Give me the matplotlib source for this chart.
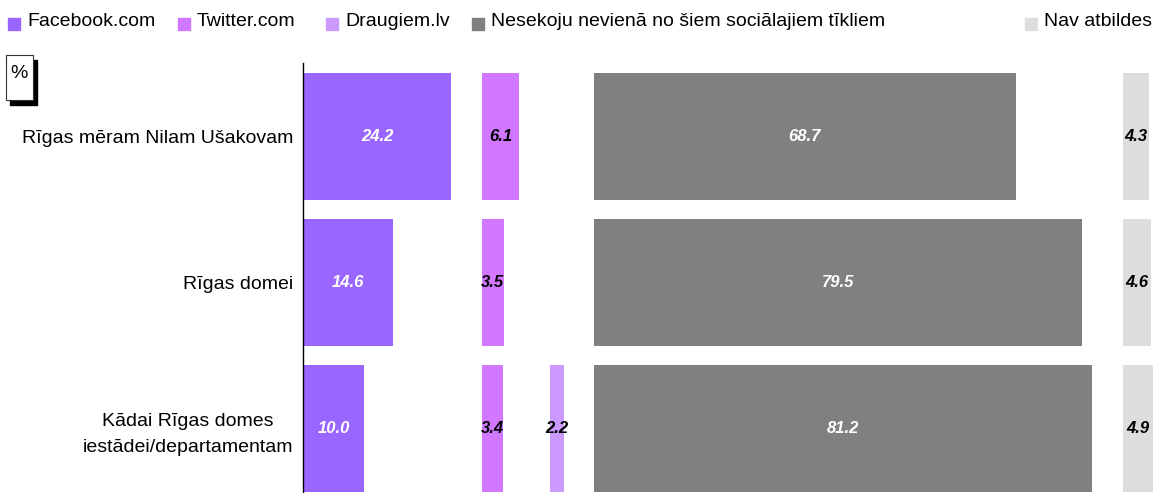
import numpy as np
import matplotlib.pyplot as plt
from matplotlib.patches import Rectangle

plt.rcParams['font.family'] = ['Liberation Sans', 'DejaVu Sans']

categories = ['Rīgas mēram Nilam Ušakovam', 'Rīgas domei', 'Kādai Rīgas domes\niestādei/departamentam']
series = ['Facebook.com', 'Twitter.com', 'Draugiem.lv',
          'Nesekoju nevienā no šiem sociālajiem tīkliem', 'Nav atbildes']
facebook = [24.2, 14.6, 10.0]
twitter = [6.1, 3.5, 3.4]
draugiem = [np.nan, np.nan, 2.2]
nesekoju = [68.7, 79.5, 81.2]
nav = [4.3, 4.6, 4.9]
values = [facebook, twitter, draugiem, nesekoju, nav]

colors = ['#9966FF', '#D277FF', '#CC99FF', '#808080', '#DDDDDD']
label_colors = ['white', 'black', 'black', 'white', 'black']
gap = 5.0

fig = plt.figure(figsize=(11.59, 4.93), dpi=100)
ax = fig.add_axes([303 / 1159, 0.0, 1 - 303 / 1159, 1 - 63 / 493])

y = np.arange(len(categories))
offset = 0.0
for vals, col, lc in zip(values, colors, label_colors):
    vals = np.array(vals, dtype=float)
    ax.barh(y, np.nan_to_num(vals), left=offset, height=0.87, color=col)
    for yi, v in zip(y, vals):
        if np.isnan(v):
            continue
        ax.text(offset + v / 2, yi, f'{v:.1f}', ha='center', va='center',
                color=lc, fontsize=12, fontweight='bold', fontstyle='italic')
    offset += np.nanmax(vals) + gap

ax.set_xlim(0, 139.6)
ax.set_ylim(2 + 64.5 / 146, -73.5 / 146)
ax.set_yticks(y)
ax.set_yticklabels(categories, fontsize=14, multialignment='center', linespacing=1.65)
ax.tick_params(axis='y', length=0, pad=7)
ax.set_xticks([])
for s in ['top', 'right', 'bottom']:
    ax.spines[s].set_visible(False)
ax.spines['left'].set_linewidth(1.0)

# legend across the top
leg_x = [8, 178, 326, 472, 1025]
for lx, name, col in zip(leg_x, series, colors):
    fig.patches.append(Rectangle((lx / 1159, 1 - 30 / 493), 12 / 1159, 12 / 493,
                                 transform=fig.transFigure, color=col, figure=fig))
    fig.text((lx + 19) / 1159, 1 - 21 / 493, name, fontsize=14, va='center', ha='left')

# "%" box with shadow
fig.patches.append(Rectangle((10 / 1159, 1 - 105 / 493), 27 / 1159, 45 / 493,
                             transform=fig.transFigure, color='black', figure=fig))
fig.patches.append(Rectangle((6 / 1159, 1 - 100 / 493), 27 / 1159, 45 / 493,
                             transform=fig.transFigure, facecolor='white',
                             edgecolor='#333333', linewidth=0.8, figure=fig))
fig.text(19 / 1159, 1 - 74 / 493, '%', fontsize=14, ha='center', va='center')

fig.savefig('out.png', dpi=100)
